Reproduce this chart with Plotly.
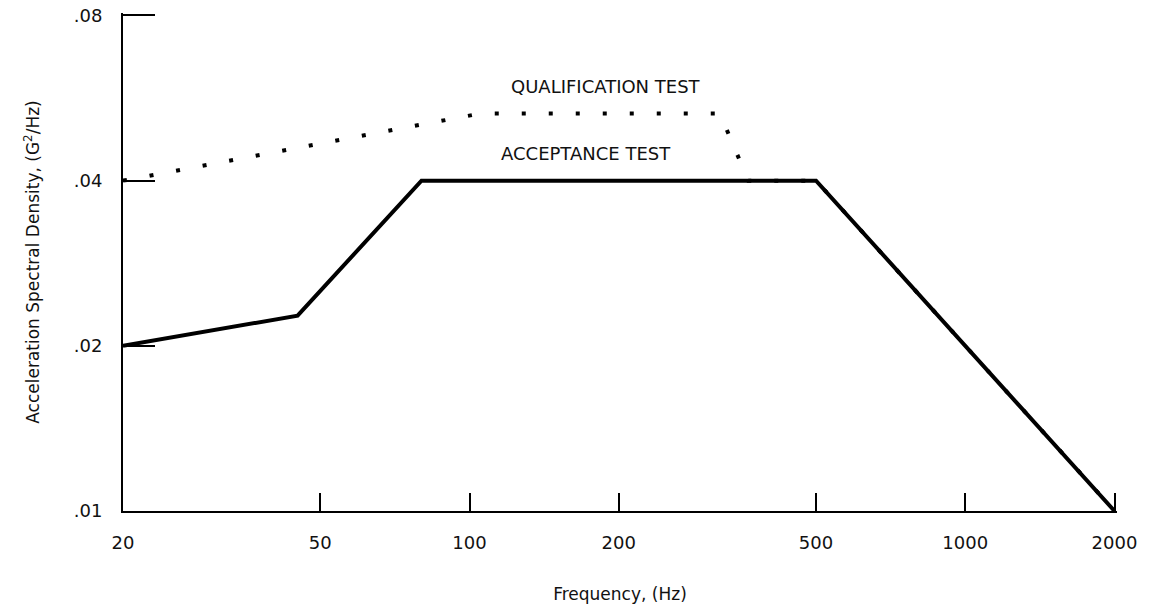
import plotly.graph_objects as go

# acceptance test profile (solid)
acc_freq = [20, 45, 80, 500, 2000]
acc_psd = [0.02, 0.0227, 0.04, 0.04, 0.01]

# qualification test profile (dotted)
qual_freq = [20, 105, 320, 365, 500, 2000]
qual_psd = [0.04, 0.053, 0.053, 0.04, 0.04, 0.01]

x_ticks = [20, 50, 100, 200, 500, 1000, 2000]
x_labels = ['20', '50', '100', '200', '500', '1000', '2000']
y_ticks = [0.01, 0.02, 0.04, 0.08]
y_labels = ['.01', '.02', '.04', '.08']

FONT = 'DejaVu Sans'

fig = go.Figure()
fig.add_trace(go.Scatter(
    x=qual_freq, y=qual_psd, mode='lines', cliponaxis=False,
    line=dict(color='black', width=4, dash='4px,23px'),
    name='Qualification'))
fig.add_trace(go.Scatter(
    x=acc_freq, y=acc_psd, mode='lines', cliponaxis=False,
    line=dict(color='black', width=4),
    name='Acceptance'))

fig.add_annotation(text='QUALIFICATION TEST', x=0.486, y=0.853, xref='paper', yref='paper',
                   xanchor='center', yanchor='middle', showarrow=False,
                   font=dict(family=FONT, size=18, color='#111'))
fig.add_annotation(text='ACCEPTANCE TEST', x=0.466, y=0.718, xref='paper', yref='paper',
                   xanchor='center', yanchor='middle', showarrow=False,
                   font=dict(family=FONT, size=18, color='#111'))

fig.update_layout(
    width=1150, height=612,
    margin=dict(l=123, r=33, t=13, b=101),
    paper_bgcolor='white', plot_bgcolor='white',
    showlegend=False,
    font=dict(family=FONT, size=18, color='#111'),
    xaxis=dict(
        type='log', range=[1.30103, 3.30603], automargin=False,
        tickvals=x_ticks, ticktext=x_labels,
        ticks='inside', ticklen=18, tickwidth=2, tickcolor='black',
        showline=True, linecolor='black', linewidth=2,
        showgrid=False, zeroline=False, ticklabelstandoff=14,
        title=dict(text='Frequency, (Hz)', standoff=37, font=dict(size=17)),
    ),
    yaxis=dict(
        type='log', range=[-2, -1.0924], automargin=False,
        tickvals=y_ticks, ticktext=y_labels,
        ticks='inside', ticklen=32, tickwidth=2, tickcolor='black',
        showline=True, linecolor='black', linewidth=2,
        showgrid=False, zeroline=False, ticklabelstandoff=15,
        title=dict(text='Acceleration Spectral Density, (G<sup>2</sup>/Hz)', standoff=30,
                   font=dict(size=17)),
    ),
)

# drop the default page margin so the figure sits at the window origin
fig.write_html('out.html', config={'displayModeBar': False},
               post_script="document.body.style.margin='0';")
